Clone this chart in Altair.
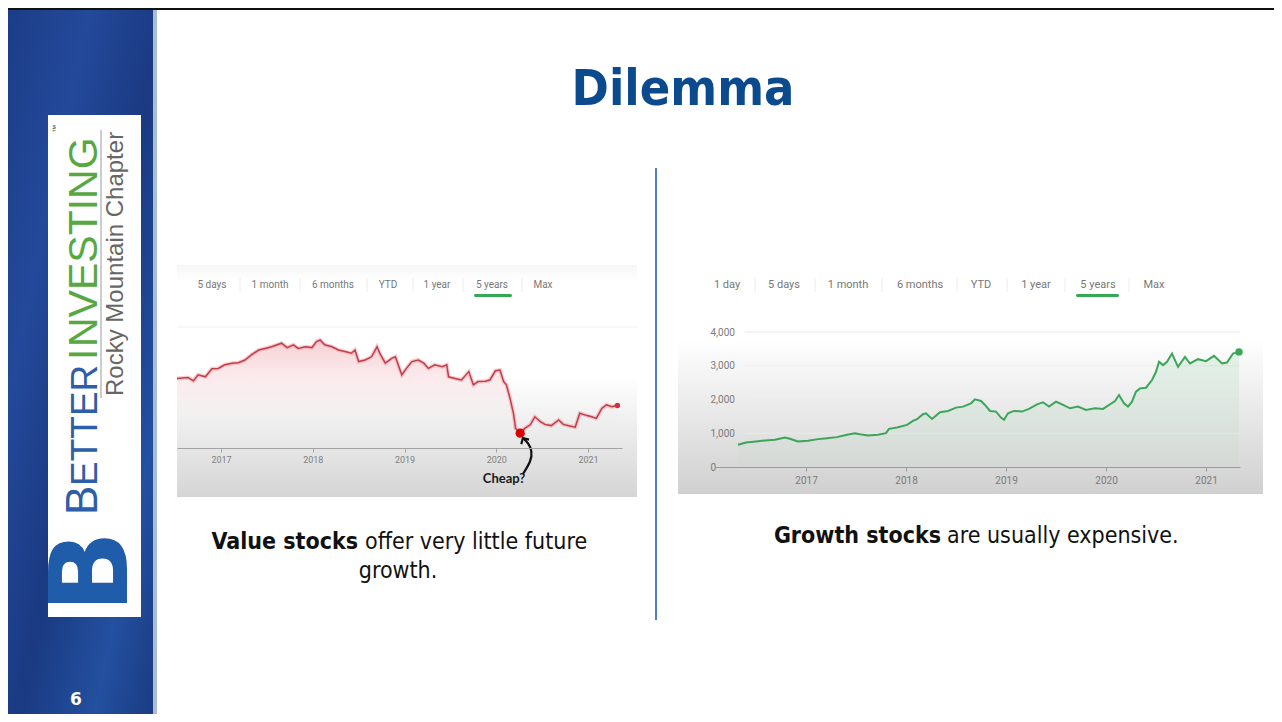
import altair as alt
import pandas as pd

# ---------------- data ----------------
# Value stock (left panel): decimal year / price (arbitrary units)
value_years = [2016.52, 2016.64, 2016.70, 2016.75, 2016.83, 2016.90, 2016.97,
               2017.04, 2017.12, 2017.19, 2017.26, 2017.33, 2017.41, 2017.48, 2017.55, 2017.66,
               2017.72, 2017.79, 2017.84, 2017.92, 2017.99,
               2018.04, 2018.08, 2018.13, 2018.21, 2018.28, 2018.35, 2018.42, 2018.46,
               2018.50, 2018.57, 2018.64, 2018.70, 2018.73, 2018.79, 2018.86, 2018.90,
               2018.97, 2019.02, 2019.08, 2019.15, 2019.21, 2019.26, 2019.33, 2019.41, 2019.46,
               2019.48, 2019.55, 2019.62, 2019.70, 2019.75, 2019.80, 2019.88, 2019.93,
               2019.99, 2020.04, 2020.08, 2020.11, 2020.15, 2020.19, 2020.21, 2020.26,
               2020.31, 2020.37, 2020.42, 2020.48, 2020.53, 2020.60, 2020.68, 2020.73, 2020.80, 2020.86,
               2020.91, 2020.99, 2021.04, 2021.09, 2021.15, 2021.20, 2021.26, 2021.32]
value_prices = [37.4, 37.6, 36.8, 38.3, 37.8, 39.8, 39.9,
                40.8, 41.2, 41.3, 42.0, 43.3, 44.5, 44.9, 45.3, 46.2,
                45.1, 45.8, 44.9, 45.3, 45.1,
                46.6, 47.0, 45.8, 45.3, 44.5, 44.1, 43.7, 44.5,
                41.6, 42.0, 42.8, 45.3, 43.7, 41.2, 42.4, 42.8,
                38.3, 39.9, 41.6, 42.0, 41.2, 39.9, 40.8, 40.3, 40.8,
                37.8, 37.4, 37.0, 39.1, 35.8, 36.6, 36.7, 37.0,
                39.3, 39.5, 36.6, 35.8, 32.4, 28.3, 24.9, 23.7,
                24.9, 25.8, 27.8, 26.6, 25.9, 25.6, 27.0, 25.9, 25.5, 25.2,
                28.7, 28.1, 27.8, 27.4, 29.9, 30.8, 30.3, 30.6]

# Growth stock (right panel)
growth_years = [2016.32, 2016.40, 2016.50, 2016.59, 2016.69, 2016.79, 2016.84, 2016.92,
                2017.02, 2017.12, 2017.21, 2017.31, 2017.41, 2017.49, 2017.54, 2017.62, 2017.72, 2017.80, 2017.83, 2017.91,
                2018.01, 2018.07, 2018.11, 2018.17, 2018.20, 2018.26, 2018.34, 2018.42, 2018.50, 2018.57,
                2018.65, 2018.69, 2018.75, 2018.79, 2018.84, 2018.90, 2018.95, 2018.98,
                2019.02, 2019.08, 2019.16, 2019.23, 2019.31, 2019.37, 2019.43, 2019.50, 2019.56, 2019.64,
                2019.72, 2019.80, 2019.89, 2019.97,
                2020.03, 2020.09, 2020.13, 2020.18, 2020.22, 2020.26, 2020.30, 2020.34, 2020.40, 2020.46,
                2020.50, 2020.53, 2020.57, 2020.61, 2020.66, 2020.72, 2020.79, 2020.84, 2020.92,
                2021.00, 2021.08, 2021.16, 2021.21, 2021.27, 2021.33]
growth_values = [659, 727, 757, 786, 806, 875, 836, 757,
                 777, 826, 855, 885, 954, 1003, 973, 934, 954, 1003, 1130, 1170,
                 1248, 1366, 1416, 1563, 1592, 1425, 1622, 1661, 1760, 1789,
                 1887, 2005, 1956, 1838, 1661, 1642, 1465, 1396,
                 1592, 1661, 1642, 1720, 1858, 1917, 1789, 1936, 1858, 1740,
                 1789, 1691, 1740, 1720,
                 1838, 1956, 2133, 1887, 1789, 1936, 2231, 2330, 2349, 2576,
                 2821, 3116, 3018, 3116, 3362, 2969, 3264, 3067, 3195,
                 3136, 3293, 3067, 3096, 3362, 3411]

year_ticks = [2017, 2018, 2019, 2020, 2021]
growth_value_ticks = [0, 1000, 2000, 3000, 4000]
growth_grid_values = [1000, 2000, 3000, 4000]

left_tabs = ["5 days", "1 month", "6 months", "YTD", "1 year", "5 years", "Max"]
right_tabs = ["1 day", "5 days", "1 month", "6 months", "YTD", "1 year", "5 years", "Max"]

cheap_year = [2020.26]
cheap_price = [23.7]
arrow_years = [2020.29, 2020.38, 2020.39, 2020.35, 2020.29]
arrow_prices = [13.5, 16.75, 19.25, 21.25, 22.5]

title_text = "Dilemma"
left_caption = ["Value stocks", "offer very little future", "growth."]
right_caption = ["Growth stocks", "are usually expensive."]
page_number = "6"

# ---------------- layout helpers ----------------
W, H = 1266, 706
M = 8  # page margin


def px(v):
    return v - M


def py(v):
    return v - M


ONE = alt.Data(values=[{"k": 0}])
SANS = "DejaVu Sans Condensed, DejaVu Sans"


def grad(stops, x2=0, y2=1):
    return alt.Gradient(gradient="linear",
                        stops=[alt.GradientStop(offset=o, color=c) for o, c in stops],
                        x1=0, y1=0, x2=x2, y2=y2)


def box(x1, y1, x2, y2, **kw):
    return alt.Chart(ONE).mark_rect(**kw).encode(
        x=alt.value(px(x1)), x2=alt.value(px(x2)), y=alt.value(py(y1)), y2=alt.value(py(y2)))


def label(s, x, y, **kw):
    return alt.Chart(ONE).mark_text(**kw).encode(
        x=alt.value(px(x)), y=alt.value(py(y)), text=alt.value(s))


def vline(x, y1, y2, **kw):
    return alt.Chart(ONE).mark_rule(**kw).encode(
        x=alt.value(px(x)), y=alt.value(py(y1)), y2=alt.value(py(y2)))


def hline(y, x1, x2, **kw):
    return alt.Chart(ONE).mark_rule(**kw).encode(
        y=alt.value(py(y)), x=alt.value(px(x1)), x2=alt.value(px(x2)))


# ---------------- background decoration ----------------
bg = []
bg.append(box(0, 0, 153, 730, fill=grad([(0, "#1b3c86"), (0.3, "#24499a"), (0.55, "#1a3a82"),
                                         (0.8, "#23509f"), (1, "#1a3a80")], x2=1, y2=1)))
bg.append(box(153, 0, 157, 730, fill="#a9bdd4"))
bg.append(box(0, 8, 1282, 10, fill="#111111"))
bg.append(box(48, 115, 141, 617, fill="#ffffff"))
# screenshot panels
bg.append(box(177, 265, 637, 497, fill=grad([(0, "#f6f6f6"), (0.07, "#ffffff"), (0.48, "#ffffff"),
                                             (1, "#d5d5d5")])))
bg.append(box(678, 265, 1263, 494, fill=grad([(0, "#ffffff"), (0.32, "#ffffff"), (1, "#d0d0d0")])))
bg.append(hline(327, 177, 637, stroke="#f1f1f1", strokeWidth=1))
# tab separators
for sx in [240, 300, 367, 413, 463, 522]:
    bg.append(vline(sx, 278, 292, stroke="#ececec", strokeWidth=1))
for sx in [755, 815, 882, 957, 1007, 1065, 1129]:
    bg.append(vline(sx, 278, 292, stroke="#ececec", strokeWidth=1))
# selected-tab underlines
bg.append(box(474, 294, 512, 297, fill="#34a853", cornerRadius=1.5))
bg.append(box(1076, 294, 1119, 297, fill="#34a853", cornerRadius=1.5))
# divider
bg.append(vline(656, 168, 620, stroke="#4f7fc4", strokeWidth=2))

# ---------------- left chart (value stock) ----------------
ldf = pd.DataFrame({"year": value_years, "price": value_prices})
lx = alt.Scale(domain=[2016.52, 2021.37], range=[px(177), px(622)], nice=False, zero=False)
ly = alt.Scale(domain=[20, 50], range=[py(448), py(328)], nice=False, zero=False)
lx_axis = alt.Axis(orient="bottom", offset=py(448) - H, values=year_ticks, format="d", grid=False,
                   domainColor="#a3a3a3", tickColor="#a3a3a3", tickSize=4, labelColor="#808080",
                   labelFont="Roboto", labelFontSize=9, labelPadding=3, title=None, labelFlush=False,
                   zindex=1)
LX = alt.X("year:Q", scale=lx, axis=lx_axis)
LY = alt.Y("price:Q", scale=ly, axis=None)

l_area = alt.Chart(ldf).mark_area(
    fill=grad([(0, "rgba(226,96,108,0.30)"), (0.5, "rgba(240,160,170,0.12)"), (0.9, "rgba(255,255,255,0)")])
).encode(x=LX, y=LY, y2=alt.datum(20))
l_halo = alt.Chart(ldf).mark_line(color="#eea3aa", strokeWidth=4, opacity=0.55).encode(x=LX, y=LY)
l_line = alt.Chart(ldf).mark_line(color="#bf3f4a", strokeWidth=1.5).encode(x=LX, y=LY)
l_end = alt.Chart(ldf.tail(1)).mark_circle(color="#d4313c", size=30, opacity=1).encode(x=LX, y=LY)
cdf = pd.DataFrame({"year": cheap_year, "price": cheap_price})
l_cheap = alt.Chart(cdf).mark_circle(color="#e00000", size=85, opacity=1).encode(x=LX, y=LY)
adf = pd.DataFrame({"year": arrow_years, "price": arrow_prices, "i": list(range(len(arrow_years)))})
l_arrow = alt.Chart(adf).mark_line(color="#111111", strokeWidth=2.2, interpolate="basis").encode(
    x=LX, y=LY, order="i:Q")
l_head = alt.Chart(adf.tail(1)).mark_point(shape="M -1 1 L 0 0 L 1 1", filled=False, stroke="#111111",
                                           strokeWidth=2.2, size=80, angle=330, opacity=1).encode(x=LX, y=LY)
left = alt.layer(l_area, l_halo, l_line, l_end, l_cheap, l_arrow, l_head)

# ---------------- right chart (growth stock) ----------------
rdf = pd.DataFrame({"year": growth_years, "value": growth_values})
rx = alt.Scale(domain=[2016.09, 2021.34], range=[px(715), px(1240)], nice=False, zero=False)
ry = alt.Scale(domain=[0, 4000], range=[py(467), py(332)], nice=False, zero=False)
rx_axis = alt.Axis(orient="bottom", offset=py(467) - H, values=year_ticks, format="d", grid=False,
                   domainColor="#9a9a9a", tickColor="#9a9a9a", tickSize=4, labelColor="#7a7a7a",
                   labelFont="Roboto", labelFontSize=10, labelPadding=4, title=None, labelFlush=False,
                   zindex=1)
ry_axis = alt.Axis(orient="left", offset=-px(710), values=growth_value_ticks, format=",.0f", grid=False,
                   domain=False, ticks=False, tickSize=0, labelAlign="left", labelPadding=0,
                   labelColor="#7a7a7a", labelFont="Roboto", labelFontSize=10, title=None, zindex=1)
RX = alt.X("year:Q", scale=rx, axis=rx_axis)
RY = alt.Y("value:Q", scale=ry, axis=ry_axis)

gdf = pd.DataFrame({"value": growth_grid_values})
r_grid = alt.Chart(gdf).mark_rule(stroke="#ebebeb", strokeWidth=1).encode(
    y=alt.Y("value:Q", scale=ry, axis=ry_axis), x=alt.value(px(745)), x2=alt.value(px(1240)))
r_area = alt.Chart(rdf).mark_area(
    fill=grad([(0, "rgba(130,205,150,0.20)"), (1, "rgba(130,205,150,0.04)")])
).encode(x=RX, y=RY, y2=alt.datum(0))
r_line = alt.Chart(rdf).mark_line(color="#3ba55a", strokeWidth=2).encode(x=RX, y=RY)
r_end = alt.Chart(rdf.tail(1)).mark_circle(color="#3ba55a", size=55, opacity=1).encode(x=RX, y=RY)
right = alt.layer(r_grid, r_area, r_line, r_end)

# ---------------- texts ----------------
tx = []
tx.append(label(title_text, 683, 105, font=SANS, fontWeight="bold", fontSize=50, color="#0c4a8e",
                align="center", baseline="alphabetic"))
for t, cx in zip(left_tabs, [212, 270, 333, 388, 437, 492, 543]):
    tx.append(label(t, cx, 285, font="Roboto", fontSize=10, color="#777777", align="center", baseline="middle"))
for t, cx in zip(right_tabs, [727, 784, 848, 920, 981, 1036, 1098, 1154]):
    tx.append(label(t, cx, 285, font="Roboto", fontSize=11, color="#777777", align="center", baseline="middle"))
tx.append(label("Cheap?", 504, 479, font="Lato", fontWeight="bold", fontSize=13, color="#1a1a1a",
                align="center", baseline="middle"))
# captions
tx.append(label(left_caption[0], 358, 542, font=SANS, fontWeight="bold", fontSize=23, color="#111111",
                align="right", baseline="middle"))
tx.append(label(left_caption[1], 365, 542, font=SANS, fontSize=23, color="#111111",
                align="left", baseline="middle"))
tx.append(label(left_caption[2], 398, 571, font=SANS, fontSize=23, color="#111111",
                align="center", baseline="middle"))
tx.append(label(right_caption[0], 941, 536, font=SANS, fontWeight="bold", fontSize=23, color="#111111",
                align="right", baseline="middle"))
tx.append(label(right_caption[1], 947, 536, font=SANS, fontSize=23, color="#111111",
                align="left", baseline="middle"))
# logo
tx.append(label("B", 97, 515, font="Liberation Sans", fontSize=44, color="#2d5ea9", angle=270,
                align="left", baseline="alphabetic"))
tx.append(label("ETTER", 97, 486, font="Liberation Sans", fontSize=37, color="#2d5ea9", angle=270,
                align="left", baseline="alphabetic"))
tx.append(label("I", 97, 360, font="Liberation Sans", fontSize=41, color="#58a842", angle=270,
                align="left", baseline="alphabetic"))
tx.append(label("NVESTING", 97, 347, font="Liberation Sans", fontSize=41, color="#58a842", angle=270,
                align="left", baseline="alphabetic"))
tx.append(label("™", 58, 133, font="Liberation Sans", fontSize=8, color="#555555", angle=270,
                align="left", baseline="alphabetic"))
tx.append(vline(101, 130, 398, stroke="#9a9a9a", strokeWidth=1))
tx.append(label("Rocky Mountain Chapter", 123, 396, font="Liberation Sans", fontSize=24, color="#666666",
                angle=270, align="left", baseline="alphabetic"))
tx.append(label("B", 127, 613, font="DejaVu Sans", fontWeight="bold", fontSize=108, color="#1f5ca9",
                angle=270, align="left", baseline="alphabetic"))
tx.append(label(page_number, 76, 700, font="DejaVu Sans", fontWeight="bold", fontSize=17, color="#ffffff",
                align="center", baseline="middle"))

chart = alt.layer(*bg, left, right, *tx).resolve_scale(
    x="independent", y="independent"
).properties(
    width=W, height=H, padding=0, autosize=alt.AutoSizeParams(type="none"), background="white"
).configure_view(stroke=None)

chart.save("out.html", embed_options={"renderer": "svg", "actions": False})
